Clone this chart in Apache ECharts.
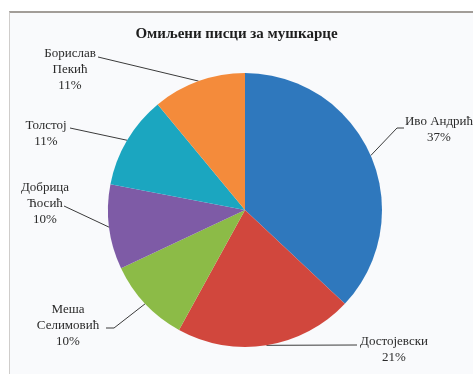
<!DOCTYPE html>
<html>
<head>
<meta charset="utf-8">
<script src="https://cdn.jsdelivr.net/npm/echarts@6/dist/echarts.min.js"></script>
<style>
  html, body { margin: 0; padding: 0; background: #ffffff; }
  #frame {
    position: absolute; left: 9px; top: 11px; width: 464px; height: 363px;
    border-top: 2px solid #a29d98; border-left: 1px solid #cfcdcb;
    background: #f9fafc;
  }
  #chart { position: absolute; left: 0; top: 0; width: 473px; height: 374px; }
</style>
</head>
<body>
<div id="frame"></div>
<div id="chart"></div>
<script>
// Favourite writers among male readers, share of votes in percent
const titleText = 'Омиљени писци за мушкарце';
const writers = ['Иво Андрић', 'Достојевски', 'Меша\nСелимовић', 'Добрица\nЋосић', 'Толстој', 'Борислав\nПекић'];
const shares = [37, 21, 10, 10, 11, 11];
const sliceColors = ['#2f78bd', '#d1473d', '#8cbb47', '#7e5ba6', '#1ba6c0', '#f48b3b'];

// Callout placement for each slice label: text block centre, an optional
// elbow and the end of the leader line (it starts at the slice's edge point).
const callouts = [
  { c: [439, 130], bend: [397, 128], end: [404, 128] },
  { c: [394, 350], bend: null,       end: [357, 345] },
  { c: [68, 326],  bend: [114, 328], end: [106, 328] },
  { c: [45, 204],  bend: null,       end: [64, 206] },
  { c: [46, 134],  bend: null,       end: [70, 128] },
  { c: [70, 70],   bend: null,       end: [98, 57] }
];

const chart = echarts.init(document.getElementById('chart'), null, { renderer: 'canvas' });

chart.setOption({
  backgroundColor: 'transparent',
  animation: false,
  title: {
    text: titleText,
    left: 'center',
    top: 22,
    textStyle: { fontFamily: 'Liberation Serif', fontSize: 15, fontWeight: 'bold', color: '#1e1e1e' }
  },
  series: [{
    type: 'pie',
    center: [245, 210],
    radius: 137,
    startAngle: 90,
    clockwise: true,
    data: writers.map((name, i) => ({ name, value: shares[i], itemStyle: { color: sliceColors[i] } })),
    label: {
      show: true,
      position: 'outside',
      formatter: p => p.name + '\n' + p.value + '%',
      fontFamily: 'Liberation Serif',
      fontSize: 13,
      lineHeight: 16,
      color: '#2a2a2a',
      overflow: 'none'
    },
    labelLine: {
      show: true,
      length: 20,
      length2: 10,
      lineStyle: { color: '#3a3a3a', width: 1 }
    },
    labelLayout: params => {
      const k = callouts[params.dataIndex];
      const start = params.labelLinePoints ? params.labelLinePoints[0] : k.end;
      const pts = k.bend ? [start, k.bend, k.end] : [start, k.end];
      return {
        x: k.c[0],
        y: k.c[1],
        align: 'center',
        verticalAlign: 'middle',
        hideOverlap: false,
        labelLinePoints: pts
      };
    },
    itemStyle: { borderWidth: 0 }
  }]
});
</script>
</body>
</html>
